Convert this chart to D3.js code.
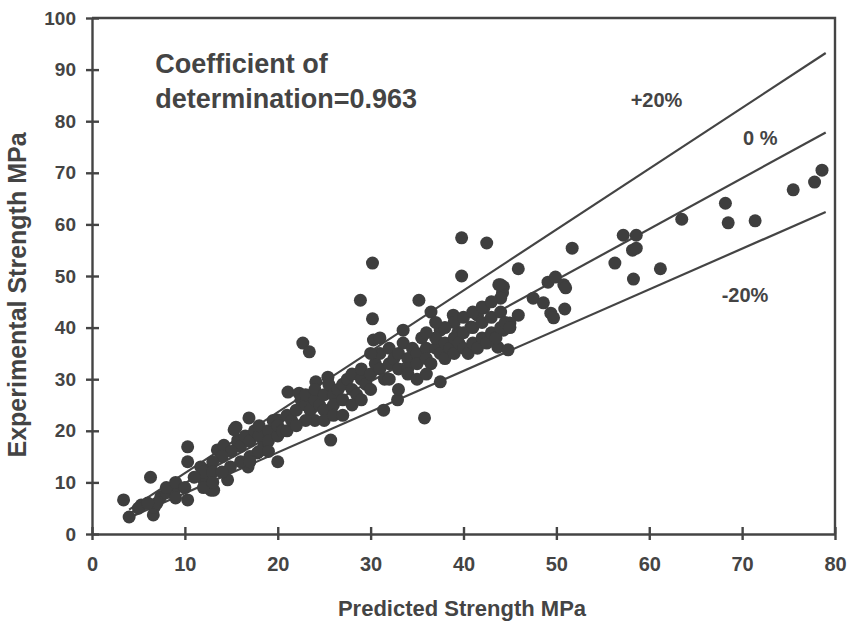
<!DOCTYPE html>
<html lang="en">
<head>
<meta charset="utf-8">
<title>Predicted vs Experimental Strength</title>
<script src="https://d3js.org/d3.v7.min.js"></script>
<style>
  body { margin: 0; background: #fff; }
  text { font-family: "Liberation Sans", Arial, sans-serif; font-weight: bold; fill: #444; }
</style>
</head>
<body>
<div id="chart"></div>
<script>
// Predicted (x) and experimental (y) strength, MPa
const predicted = [
  78.6, 77.8, 75.5, 68.2, 68.5, 71.4, 63.5, 57.2, 58.6, 58.2, 58.6, 56.3, 61.2, 58.3, 51.7, 45.9,
  49.1, 49.9, 50.8, 51.0, 47.5, 48.6, 49.4, 49.7, 50.9, 45.9, 44.3, 44.2, 45.0, 44.3,
  39.8, 42.5, 30.2, 39.8, 28.9, 35.2, 36.5, 30.2, 38.9, 44.0, 30.3, 43.8, 44.0, 42.2, 41.5,
  33.5, 37.5, 39.4, 40.8, 43.7, 44.8, 37.5, 22.7, 23.4, 25.4, 24.1, 21.1, 22.3, 25.7, 31.4, 32.9,
  16.9, 20.0, 15.5, 20.0, 15.7, 10.3, 10.3, 6.3, 3.4, 4.0, 6.6, 9.0, 10.3, 7.4, 6.7, 5.3,
  12.8, 12.5, 11.7, 13.5, 14.2, 15.7, 15.3, 14.9, 14.6, 13.1, 16.8, 17.8, 12.0, 35.8,
  16, 16.5, 17, 17.5, 18, 18, 18.5, 19, 19, 19.5, 20, 20, 20.5, 21, 21, 21.5, 17, 18, 19, 16, 17,
  15, 14, 13, 12, 13, 11, 12, 13, 14, 8, 9, 7, 5, 6, 8, 9, 10,
  22, 22.5, 23, 23, 23.5, 24, 24, 24.5, 25, 25, 25.5, 26, 26, 26.5, 27, 27, 27.5, 28, 28, 28.5,
  29, 29, 29.5, 30, 30, 24, 25, 26, 23, 22, 27, 28, 29,
  30.5, 31, 31, 31.5, 32, 32, 32.5, 33, 33, 33.5, 34, 34, 34.5, 35, 35, 35.5, 36, 36, 36.5, 37,
  37, 37.5, 38, 38, 30, 31, 32, 33, 34, 35, 36,
  38.5, 39, 39, 39.5, 40, 40, 40.5, 41, 41, 41.5, 42, 42, 42.5, 43, 43, 43.5, 44, 44, 44.5, 45,
  39, 40, 41, 42, 43, 38, 37, 36
];
const experimental = [
  70.5, 68.2, 66.7, 64.1, 60.3, 60.7, 61.0, 57.9, 57.9, 55.0, 55.4, 52.5, 51.4, 49.4, 55.4, 51.4,
  48.8, 49.8, 48.3, 47.7, 45.7, 44.8, 42.8, 41.9, 43.6, 42.4, 47.9, 46.7, 40.9, 39.5,
  57.4, 56.4, 52.5, 50.0, 45.3, 45.3, 43.0, 41.7, 42.4, 48.3, 37.6, 48.3, 45.7, 43.8, 42.4,
  39.5, 39.5, 39.1, 40.1, 36.2, 35.7, 29.5, 37.0, 35.3, 30.4, 29.5, 27.5, 27.3, 18.2, 24.0, 26.0,
  22.5, 22.1, 20.7, 14.0, 17.6, 16.9, 14.0, 11.0, 6.6, 3.3, 3.7, 8.9, 6.6, 7.2, 5.2, 5.6,
  8.5, 12.4, 13.0, 16.3, 17.2, 18.2, 20.2, 13.0, 10.5, 8.5, 13.0, 15.7, 10.5, 22.5,
  17, 19, 18, 20, 19, 21, 17, 20, 18, 22, 19, 21, 20, 23, 20, 22, 15, 16, 16, 14, 14,
  16, 15, 14, 12, 12, 11, 9, 10, 12, 8, 7, 6, 5, 6, 9, 10, 9,
  24, 26, 25, 27, 24, 26, 28, 25, 27, 24, 29, 27, 25, 28, 29, 26, 30, 28, 31, 27,
  30, 32, 29, 31, 28, 22, 22, 23, 22, 21, 23, 25, 26,
  33, 32, 35, 30, 33, 36, 34, 32, 35, 37, 34, 32, 36, 35, 33, 38, 36, 34, 33, 36,
  38, 35, 37, 34, 35, 38, 30, 28, 31, 30, 31,
  36, 38, 35, 37, 36, 39, 35, 37, 40, 36, 38, 41, 37, 39, 42, 38, 40, 43, 41, 40,
  41, 42, 43, 44, 45, 40, 41, 39
];

// Reference lines y = factor * x, slopes as they sit in the scan (+20%, 0 %, -20%)
const bandFactors = [1.18, 0.985, 0.79];
const bandLabels = ["+20%", "0 %", "-20%"];
const bandStart = 4, bandEnd = 79;

const xTicks = [0, 10, 20, 30, 40, 50, 60, 70, 80];
const yTicks = [0, 10, 20, 30, 40, 50, 60, 70, 80, 90, 100];

const width = 849, height = 624;
const margin = { top: 18, right: 14, bottom: 90, left: 92 };
const ink = "#444";

const svg = d3.select("#chart").append("svg")
  .attr("width", width)
  .attr("height", height);

const x = d3.scaleLinear().domain([0, 80]).range([margin.left, width - margin.right]);
const y = d3.scaleLinear().domain([0, 100]).range([height - margin.bottom, margin.top]);

// frame top and right
svg.append("path")
  .attr("d", `M${x(0)},${y(100)}H${x(80)}V${y(0)}`)
  .attr("fill", "none").attr("stroke", ink).attr("stroke-width", 2.4);

// axes, ticks crossing the line
const xAxis = svg.append("g")
  .attr("transform", `translate(0,${y(0)})`)
  .call(d3.axisBottom(x).tickValues(xTicks).tickSize(6).tickSizeOuter(0).tickPadding(17));
xAxis.selectAll(".tick line").attr("y1", -7);
xAxis.selectAll(".tick text").style("font-size", "20px");

const yAxis = svg.append("g")
  .attr("transform", `translate(${x(0)},0)`)
  .call(d3.axisLeft(y).tickValues(yTicks).tickSize(6).tickSizeOuter(0).tickPadding(10));
yAxis.selectAll(".tick line").attr("x1", 7);
yAxis.selectAll(".tick text").style("font-size", "19px");

svg.selectAll(".domain, .tick line").attr("stroke", ink).attr("stroke-width", 2.4);
svg.selectAll(".tick text").attr("fill", ink);

// reference lines
svg.append("g").selectAll("line")
  .data(bandFactors)
  .join("line")
  .attr("x1", x(bandStart)).attr("y1", f => y(f * bandStart))
  .attr("x2", x(bandEnd)).attr("y2", f => y(f * bandEnd))
  .attr("stroke", ink).attr("stroke-width", 2.2);

// points
const points = predicted.map((p, i) => ({ p: p, e: experimental[i] }));
svg.append("g").selectAll("circle")
  .data(points)
  .join("circle")
  .attr("cx", d => x(d.p))
  .attr("cy", d => y(d.e))
  .attr("r", 6.5)
  .attr("fill", "#3e3e3e");

// band labels
const labelPos = [[58, 82.8], [70.1, 75.4], [67.8, 45]];
svg.append("g").selectAll("text")
  .data(bandLabels)
  .join("text")
  .attr("x", (d, i) => x(labelPos[i][0]))
  .attr("y", (d, i) => y(labelPos[i][1]))
  .style("font-size", "20px")
  .text(d => d);

// coefficient note
const note = svg.append("text")
  .attr("x", x(6.8)).attr("y", y(89.3))
  .style("font-size", "27px");
note.append("tspan").text("Coefficient of");
note.append("tspan").attr("x", x(6.8)).attr("dy", 35).text("determination=0.963");

// axis titles
svg.append("text")
  .attr("x", 462).attr("y", 616)
  .attr("text-anchor", "middle")
  .style("font-size", "22px")
  .text("Predicted Strength MPa");

svg.append("text")
  .attr("transform", "translate(26,295) rotate(-90)")
  .attr("text-anchor", "middle")
  .style("font-size", "25px")
  .text("Experimental Strength MPa");
</script>
</body>
</html>
